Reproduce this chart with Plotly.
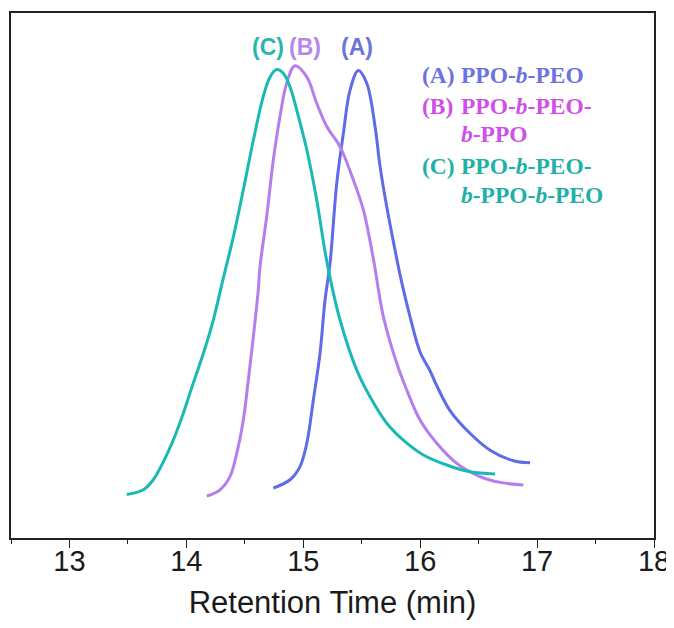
import plotly.graph_objects as go

# Retention time (min) and normalized detector response for each sample
time_A = [14.744, 14.887, 14.972, 15.030, 15.086, 15.143, 15.186, 15.229, 15.286, 15.343,
          15.400, 15.471, 15.543, 15.614, 15.657, 15.714, 15.785, 15.828, 15.913, 15.999,
          16.085, 16.142, 16.255, 16.426, 16.598, 16.797, 16.940]
resp_A = [0.100, 0.116, 0.141, 0.185, 0.267, 0.355, 0.456, 0.526, 0.677, 0.772,
          0.854, 0.891, 0.867, 0.785, 0.709, 0.633, 0.551, 0.504, 0.425, 0.358,
          0.322, 0.294, 0.247, 0.204, 0.172, 0.152, 0.148]

time_B = [14.174, 14.288, 14.373, 14.431, 14.487, 14.530, 14.573, 14.615, 14.630, 14.687,
          14.744, 14.801, 14.858, 14.929, 15.030, 15.115, 15.201, 15.314, 15.428, 15.514,
          15.599, 15.685, 15.799, 15.885, 15.999, 16.142, 16.313, 16.512, 16.683, 16.882]
resp_B = [0.085, 0.097, 0.122, 0.166, 0.229, 0.305, 0.387, 0.475, 0.520, 0.614,
          0.722, 0.804, 0.867, 0.900, 0.879, 0.829, 0.785, 0.747, 0.684, 0.627,
          0.535, 0.425, 0.337, 0.286, 0.229, 0.185, 0.147, 0.122, 0.111, 0.106]

time_C = [13.490, 13.632, 13.717, 13.803, 13.888, 13.974, 14.059, 14.145, 14.231, 14.316,
          14.402, 14.487, 14.573, 14.658, 14.716, 14.773, 14.829, 14.887, 14.944, 15.030,
          15.115, 15.201, 15.314, 15.457, 15.571, 15.714, 15.856, 16.027, 16.227, 16.426, 16.640]
resp_C = [0.088, 0.097, 0.116, 0.150, 0.191, 0.242, 0.299, 0.355, 0.419, 0.498,
          0.576, 0.665, 0.759, 0.842, 0.879, 0.893, 0.886, 0.860, 0.816, 0.741,
          0.646, 0.530, 0.419, 0.324, 0.273, 0.223, 0.191, 0.163, 0.144, 0.131, 0.127]

x_ticks = [13, 14, 15, 16, 17, 18]
x_title = "Retention Time (min)"

peak_labels = ["(C)", "(B)", "(A)"]
peak_label_x = [14.70, 15.015, 15.46]
peak_label_y = 0.936

legend_keys = ["(A)", "(B)", "(C)"]
legend_lines = [["PPO-<i>b</i>-PEO"],
                ["PPO-<i>b</i>-PEO-", "<i>b</i>-PPO"],
                ["PPO-<i>b</i>-PEO-", "<i>b</i>-PPO-<i>b</i>-PEO"]]

line_colors = {"A": "#5F6BE8", "B": "#B47EEE", "C": "#1BB9B6"}
peak_label_colors = ["#2AB5B0", "#B886E6", "#6B75D8"]
legend_colors = ["#6B73E0", "#CF4FE8", "#1FB0A8"]

fig = go.Figure()
for t, r, c in [(time_A, resp_A, line_colors["A"]),
                (time_B, resp_B, line_colors["B"]),
                (time_C, resp_C, line_colors["C"])]:
    fig.add_trace(go.Scatter(x=t, y=r, mode="lines",
                             line=dict(color=c, width=3, shape="spline", smoothing=1.0),
                             showlegend=False, hoverinfo="skip"))

annotations = []
for lab, lx, col in zip(peak_labels, peak_label_x, peak_label_colors):
    annotations.append(dict(x=lx, y=peak_label_y, xref="x", yref="y", text=lab,
                            showarrow=False, xanchor="center", yanchor="middle",
                            font=dict(family="Liberation Sans, Arial", size=23,
                                      color=col, weight="bold")))

# legend text block (paper coordinates)
block_y = [[0.882], [0.823, 0.7686], [0.7086, 0.6533]]
key_x = 0.636
text_x = 0.696
for key, lines, ys, col in zip(legend_keys, legend_lines, block_y, legend_colors):
    annotations.append(dict(x=key_x, y=ys[0], xref="paper", yref="paper", text=key,
                            showarrow=False, xanchor="left", yanchor="middle",
                            font=dict(family="Liberation Serif, Times New Roman", size=23.5,
                                      color=col, weight="bold")))
    for ln, yy in zip(lines, ys):
        annotations.append(dict(x=text_x, y=yy, xref="paper", yref="paper", text=ln,
                                showarrow=False, xanchor="left", yanchor="middle",
                                font=dict(family="Liberation Serif, Times New Roman", size=23.5,
                                          color=col, weight="bold")))

# the page body adds an 8 px offset
fig.update_layout(
    width=674, height=612,
    margin=dict(l=3, r=28, t=5, b=82),
    paper_bgcolor="white", plot_bgcolor="white",
    annotations=annotations,
    xaxis=dict(range=[12.5, 18], tickvals=x_ticks, ticks="outside", ticklen=8,
               tickwidth=1.3, tickcolor="#222", automargin=False,
               ticklabelstandoff=-12, ticklabeloverflow="allow",
               minor=dict(dtick=0.5, tick0=12.5, ticks="outside", ticklen=4,
                          tickwidth=1.3, tickcolor="#222"),
               showline=True, linecolor="#222", linewidth=1.5, mirror=True,
               showgrid=False, zeroline=False,
               tickfont=dict(family="Liberation Sans, Arial", size=29, color="#1a1a1a"),
               title=dict(text=x_title, standoff=32,
                          font=dict(family="Liberation Sans, Arial", size=31, color="#1a1a1a"))),
    yaxis=dict(range=[0.0057, 1.0], showticklabels=False, ticks="", automargin=False,
               showline=True, linecolor="#222", linewidth=1.5, mirror=True,
               showgrid=False, zeroline=False),
)

fig.write_html("out.html")
